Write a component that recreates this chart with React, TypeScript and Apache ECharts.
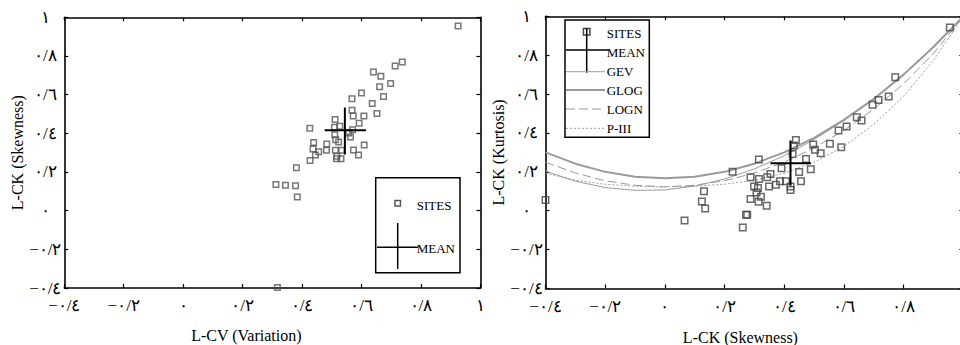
import React, { useEffect, useRef } from 'react';
import * as echarts from 'echarts';

const tickValues = [-0.4, -0.2, 0, 0.2, 0.4, 0.6, 0.8, 1];
const tickLabels = ['−٠/٤', '−٠/٢', '٠', '٠/٢', '٠/٤', '٠/٦', '٠/٨', '١'];

// Left panel: L-CV vs L-CK (Skewness)
const leftCV = [0.925, 0.737, 0.713, 0.640, 0.665, 0.661, 0.698, 0.674, 0.600, 0.568, 0.636, 0.652, 0.568, 0.572, 0.608, 0.592, 0.511, 0.527, 0.509, 0.426, 0.570, 0.557, 0.510, 0.563, 0.513, 0.523, 0.439, 0.483, 0.609, 0.437, 0.456, 0.445, 0.482, 0.512, 0.533, 0.573, 0.590, 0.517, 0.531, 0.516, 0.427, 0.381, 0.312, 0.344, 0.378, 0.384, 0.317];
const leftSkew = [0.955, 0.769, 0.748, 0.717, 0.695, 0.641, 0.657, 0.590, 0.608, 0.579, 0.554, 0.502, 0.519, 0.489, 0.489, 0.452, 0.471, 0.436, 0.432, 0.426, 0.419, 0.401, 0.393, 0.381, 0.367, 0.355, 0.352, 0.345, 0.339, 0.319, 0.305, 0.288, 0.312, 0.312, 0.312, 0.314, 0.288, 0.281, 0.269, 0.269, 0.260, 0.222, 0.135, 0.131, 0.129, 0.070, -0.398];
const meanLeft = [0.544, 0.416];
const meanLeftXRange = [0.476, 0.615];
const meanLeftYRange = [0.291, 0.533];

// Right panel: L-CK (Skewness) vs L-CK (Kurtosis)
const rightSkew = [0.955, 0.772, 0.750, 0.716, 0.696, 0.643, 0.659, 0.609, 0.582, 0.553, 0.591, 0.497, 0.503, 0.522, 0.439, 0.432, 0.428, 0.473, 0.489, 0.450, 0.456, 0.421, 0.421, 0.391, 0.406, 0.386, 0.372, 0.354, 0.349, 0.343, 0.315, 0.287, 0.315, 0.299, 0.312, 0.307, 0.287, 0.322, 0.314, 0.341, 0.276, 0.272, 0.261, 0.227, 0.131, 0.124, 0.135, 0.066, -0.400];
const rightKurt = [0.942, 0.687, 0.588, 0.570, 0.545, 0.481, 0.464, 0.433, 0.412, 0.345, 0.326, 0.340, 0.314, 0.295, 0.364, 0.335, 0.292, 0.266, 0.213, 0.199, 0.151, 0.124, 0.107, 0.218, 0.151, 0.151, 0.134, 0.189, 0.124, 0.172, 0.264, 0.172, 0.163, 0.124, 0.117, 0.094, 0.060, 0.072, 0.046, 0.026, -0.021, -0.021, -0.086, 0.201, 0.100, 0.048, 0.012, -0.050, 0.055];
const meanRight = [0.421, 0.244];
const meanRightXRange = [0.354, 0.489];
const meanRightYRange = [0.129, 0.361];

// Theoretical curves
const curveSkew = [-0.4, -0.3, -0.2, -0.1, 0, 0.1, 0.2, 0.3, 0.4, 0.5, 0.6, 0.7, 0.8, 0.9, 1.0];
const gevKurt = [0.204, 0.152, 0.119, 0.105, 0.107, 0.127, 0.163, 0.215, 0.283, 0.366, 0.464, 0.576, 0.703, 0.844, 1.0];
const glogKurt = [0.300, 0.242, 0.200, 0.175, 0.167, 0.175, 0.200, 0.242, 0.300, 0.375, 0.467, 0.575, 0.700, 0.842, 1.0];
const lognKurt = [0.250, 0.194, 0.154, 0.131, 0.123, 0.131, 0.154, 0.194, 0.250, 0.323, 0.413, 0.523, 0.653, 0.808, 1.0];
const p3Kurt = [0.193, 0.157, 0.136, 0.126, 0.122, 0.126, 0.136, 0.157, 0.193, 0.249, 0.331, 0.444, 0.589, 0.773, 1.0];

const leftLegendNames = ['SITES', 'MEAN'];
const rightLegendNames = ['SITES', 'MEAN', 'GEV', 'GLOG', 'LOGN', 'P-III'];

const FONT = "'Liberation Serif', 'Times New Roman', serif";
const SITE_COLOR = '#555';
const CURVE_COLOR = '#9a9a9a';
const LABEL_SIZE = 17;

function fmt(v: number): string {
  const i = Math.round((v - tickValues[0]) / 0.2);
  return tickLabels[i] ?? '';
}

function axis(gridIndex: number, position: string, showLabel: boolean, extra: any = {}) {
  const isY = position === 'left' || position === 'right';
  return {
    type: 'value',
    gridIndex,
    position,
    min: -0.4,
    max: 1,
    interval: 0.2,
    axisLine: { show: true, onZero: false, lineStyle: { color: '#000', width: 1.6 } },
    axisTick: { show: true, inside: true, length: 4, lineStyle: { color: '#000', width: 1.2 } },
    splitLine: { show: false },
    axisLabel: {
      show: showLabel,
      color: '#000',
      fontSize: LABEL_SIZE,
      fontFamily: FONT,
      formatter: (v: number) => fmt(v),
      ...(isY ? { align: 'center', margin: 19 } : { margin: 9 }),
    },
    nameTextStyle: { color: '#000', fontSize: 16, fontFamily: FONT },
    ...extra,
  };
}

function meanSeries(xAxisIndex: number, yAxisIndex: number, mean: number[], xr: number[], yr: number[]) {
  const base = {
    type: 'line',
    xAxisIndex,
    yAxisIndex,
    symbol: 'none',
    silent: true,
    z: 5,
    lineStyle: { color: '#000', width: 2 },
  };
  return [
    { ...base, data: [[xr[0], mean[1]], [xr[1], mean[1]]] },
    { ...base, data: [[mean[0], yr[0]], [mean[0], yr[1]]] },
  ];
}

function curve(name: string, values: number[], width: number, dash: any) {
  return {
    type: 'line',
    name,
    xAxisIndex: 2,
    yAxisIndex: 2,
    symbol: 'none',
    silent: true,
    data: curveSkew.map((x, i) => [x, values[i]]),
    lineStyle: { color: CURVE_COLOR, width, type: dash },
    z: 2,
  };
}

function textEl(text: string, x: number, y: number) {
  return {
    type: 'text',
    x,
    y,
    z: 101,
    style: { text, fill: '#000', fontSize: 13, fontFamily: FONT, align: 'left', verticalAlign: 'middle' },
  };
}

function lineEl(x1: number, y1: number, x2: number, y2: number, stroke: string, lineWidth: number, lineDash?: number[]) {
  return {
    type: 'line',
    z: 101,
    shape: { x1, y1, x2, y2 },
    style: { stroke, lineWidth, lineDash: lineDash || null },
  };
}

function squareEl(cx: number, cy: number, size: number, color: string) {
  return {
    type: 'rect',
    z: 101,
    shape: { x: cx - size / 2, y: cy - size / 2, width: size, height: size },
    style: { fill: 'none', stroke: color, lineWidth: 1.5 },
  };
}

export default function App() {
  const ref = useRef<HTMLDivElement>(null);

  useEffect(() => {
    if (!ref.current) return;
    const chart = echarts.init(ref.current, undefined, { renderer: 'svg' });

    const rightLegendY = [33.3, 52, 71.7, 90, 109, 128.3];

    const graphic: any[] = [
      {
        type: 'rect', z: 100,
        shape: { x: 375.7, y: 177.7, width: 84.3, height: 95 },
        style: { fill: '#fff', stroke: '#000', lineWidth: 1.5 },
      },
      squareEl(397.7, 203.3, 5.5, SITE_COLOR),
      textEl(leftLegendNames[0], 416.7, 205),
      lineEl(377, 247.3, 418, 247.3, '#000', 1.5),
      lineEl(397.7, 223, 397.7, 269, '#000', 1.5),
      textEl(leftLegendNames[1], 416.7, 248),
      {
        type: 'rect', z: 100,
        shape: { x: 565, y: 20, width: 84.3, height: 117.3 },
        style: { fill: '#fff', stroke: '#000', lineWidth: 1.5 },
      },
      squareEl(586.7, 31.7, 6.5, '#444'),
      lineEl(566, 50, 608.3, 50, '#000', 1.5),
      lineEl(586.7, 28.3, 586.7, 72.7, '#000', 1.5),
      lineEl(566, 71.7, 605, 71.7, CURVE_COLOR, 1),
      lineEl(566, 90, 605, 90, CURVE_COLOR, 2),
      lineEl(566, 109, 605, 109, CURVE_COLOR, 1, [9, 4]),
      lineEl(566, 128.3, 605, 128.3, CURVE_COLOR, 1, [2, 2]),
      ...rightLegendNames.map((n, i) => textEl(n, 606.7, rightLegendY[i])),
    ];

    const option: any = {
      animation: false,
      backgroundColor: '#fff',
      grid: [
        { left: 64.3, top: 17.3, width: 416.1, height: 270.7, containLabel: false, outerBoundsMode: 'none' },
        { left: 545.5, top: 16.3, width: 417.8, height: 272.2, containLabel: false, outerBoundsMode: 'none' },
      ],
      xAxis: [
        axis(0, 'bottom', true, {
          name: 'L-CV (Variation)', nameLocation: 'middle', nameGap: 39,
          nameTextStyle: { color: '#000', fontSize: 16, fontFamily: FONT, padding: [0, 52, 0, 0] },
        }),
        axis(0, 'top', false),
        axis(1, 'bottom', true, {
          name: 'L-CK (Skewness)', nameLocation: 'middle', nameGap: 41,
          nameTextStyle: { color: '#000', fontSize: 16, fontFamily: FONT, padding: [0, 28, 0, 0] },
          axisLabel: {
            show: true, color: '#000', fontSize: LABEL_SIZE, fontFamily: FONT, margin: 9,
            formatter: (v: number) => (v > 0.99 ? '' : fmt(v)),
          },
        }),
        axis(1, 'top', false),
      ],
      yAxis: [
        axis(0, 'left', true, { name: 'L-CK (Skewness)', nameLocation: 'middle', nameGap: 39 }),
        axis(0, 'right', false),
        axis(1, 'left', true, { name: 'L-CK (Kurtosis)', nameLocation: 'middle', nameGap: 33 }),
        axis(1, 'right', false),
      ],
      series: [
        {
          type: 'scatter',
          name: 'SITES',
          xAxisIndex: 0,
          yAxisIndex: 0,
          symbol: 'rect',
          symbolSize: 5.5,
          data: leftCV.map((x, i) => [x, leftSkew[i]]),
          itemStyle: { color: 'rgba(0,0,0,0)', borderColor: SITE_COLOR, borderWidth: 1.5 },
          z: 3,
        },
        ...meanSeries(0, 0, meanLeft, meanLeftXRange, meanLeftYRange),
        curve('GEV', gevKurt, 1, 'solid'),
        curve('GLOG', glogKurt, 2, 'solid'),
        curve('LOGN', lognKurt, 1, [9, 4]),
        curve('P-III', p3Kurt, 1, [2, 2]),
        {
          type: 'scatter',
          name: 'SITES',
          xAxisIndex: 2,
          yAxisIndex: 2,
          symbol: 'rect',
          symbolSize: 6.5,
          data: rightSkew.map((x, i) => [x, rightKurt[i]]),
          itemStyle: { color: 'rgba(0,0,0,0)', borderColor: '#444', borderWidth: 1.5 },
          z: 3,
        },
        ...meanSeries(2, 2, meanRight, meanRightXRange, meanRightYRange),
      ],
      graphic,
    };

    chart.setOption(option);
    return () => chart.dispose();
  }, []);

  return (
    <div
      ref={ref}
      style={{ position: 'fixed', left: 0, top: 0, width: 960, height: 345, background: '#fff' }}
    />
  );
}
